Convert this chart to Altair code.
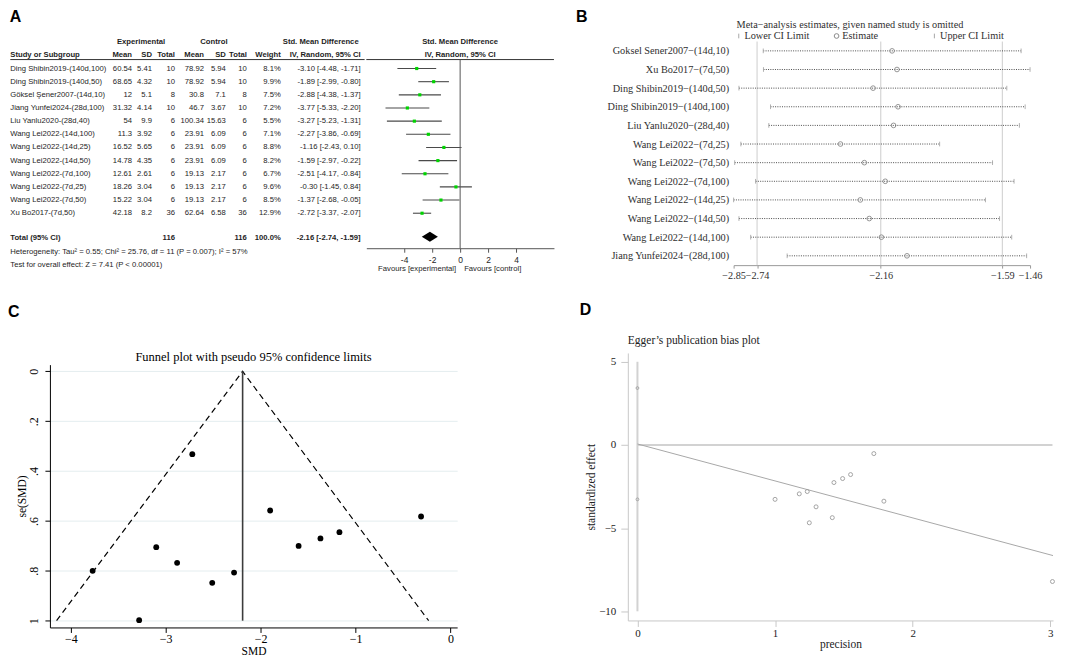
import altair as alt
import pandas as pd

SANS = "Liberation Sans"
SERIF = "Liberation Serif"

# ---------------- Panel A data (forest plot table) ----------------
studies_a = ["Ding Shibin2019-(140d,100)", "Ding Shibin2019-(140d,50)", "Göksel Şener2007-(14d,10)",
             "Jiang Yunfei2024-(28d,100)", "Liu Yanlu2020-(28d,40)", "Wang Lei2022-(14d,100)",
             "Wang Lei2022-(14d,25)", "Wang Lei2022-(14d,50)", "Wang Lei2022-(7d,100)",
             "Wang Lei2022-(7d,25)", "Wang Lei2022-(7d,50)", "Xu Bo2017-(7d,50)"]
exp_mean = [60.54, 68.65, 12, 31.32, 54, 11.3, 16.52, 14.78, 12.61, 18.26, 15.22, 42.18]
exp_sd = [5.41, 4.32, 5.1, 4.14, 9.9, 3.92, 5.65, 4.35, 2.61, 3.04, 3.04, 8.2]
exp_n = [10, 10, 8, 10, 6, 6, 6, 6, 6, 6, 6, 36]
ctl_mean = [78.92, 78.92, 30.8, 46.7, 100.34, 23.91, 23.91, 23.91, 19.13, 19.13, 19.13, 62.64]
ctl_sd = [5.94, 5.94, 7.1, 3.67, 15.63, 6.09, 6.09, 6.09, 2.17, 2.17, 2.17, 6.58]
ctl_n = [10, 10, 8, 10, 6, 6, 6, 6, 6, 6, 6, 36]
weight = [8.1, 9.9, 7.5, 7.2, 5.5, 7.1, 8.8, 8.2, 6.7, 9.6, 8.5, 12.9]
smd = [-3.10, -1.89, -2.88, -3.77, -3.27, -2.27, -1.16, -1.59, -2.51, -0.30, -1.37, -2.72]
smd_lo = [-4.48, -2.99, -4.38, -5.33, -5.23, -3.86, -2.43, -2.97, -4.17, -1.45, -2.68, -3.37]
smd_hi = [-1.71, -0.80, -1.37, -2.20, -1.31, -0.69, 0.10, -0.22, -0.84, 0.84, -0.05, -2.07]
total_n = [116, 116]
total_weight = "100.0%"
pooled = [-2.16, -2.74, -1.59]  # estimate, lower, upper
het_text = "Heterogeneity: Tau² = 0.55; Chi² = 25.76, df = 11 (P = 0.007); I² = 57%"
test_text = "Test for overall effect: Z = 7.41 (P < 0.00001)"
forest_ticks = [-4, -2, 0, 2, 4]

# ---------------- Panel B data (leave-one-out) ----------------
studies_b = ["Goksel Sener2007−(14d,10)", "Xu Bo2017−(7d,50)", "Ding Shibin2019−(140d,50)",
             "Ding Shibin2019−(140d,100)", "Liu Yanlu2020−(28d,40)", "Wang Lei2022−(7d,25)",
             "Wang Lei2022−(7d,50)", "Wang Lei2022−(7d,100)", "Wang Lei2022−(14d,25)",
             "Wang Lei2022−(14d,50)", "Wang Lei2022−(14d,100)", "Jiang Yunfei2024−(28d,100)"]
b_est = [-2.107, -2.084, -2.196, -2.079, -2.100, -2.349, -2.237, -2.139, -2.256, -2.214, -2.157, -2.037]
b_lo = [-2.711, -2.710, -2.825, -2.677, -2.685, -2.816, -2.845, -2.747, -2.850, -2.825, -2.770, -2.599]
b_hi = [-1.502, -1.460, -1.569, -1.483, -1.510, -1.884, -1.636, -1.535, -1.669, -1.603, -1.546, -1.476]
b_ref = [-2.74, -2.16, -1.59]
b_ticks = [-2.85, -2.74, -2.16, -1.59, -1.46]
b_kinds = ["Lower CI Limit", "Estimate", "Upper CI Limit"]

# ---------------- Panel C data (funnel) ----------------
c_smd = [-2.72, -1.90, -0.31, -1.17, -1.37, -1.60, -3.10, -2.88, -3.77, -2.28, -2.51, -3.28]
c_se = [0.332, 0.558, 0.582, 0.645, 0.670, 0.700, 0.705, 0.768, 0.800, 0.807, 0.848, 0.998]
funnel_x = [-4.15, -2.19, -0.23]
funnel_y = [1.0, 0.0, 1.0]
c_center = -2.19
c_xticks = [-4, -3, -2, -1, 0]
c_yticks = [0, 0.2, 0.4, 0.6, 0.8, 1]
c_title = "Funnel plot with pseudo 95% confidence limits"

# ---------------- Panel D data (Egger) ----------------
d_prec = [1.00, 1.176, 1.234, 1.249, 1.298, 1.416, 1.428, 1.491, 1.549, 1.718, 1.791, 3.016]
d_eff = [-3.27, -2.94, -2.80, -4.68, -3.72, -4.37, -2.26, -2.02, -1.78, -0.52, -3.38, -8.21]
egger_x = [0.0, 3.02]
egger_y = [0.06, -6.65]
intercept_ci = [3.42, -3.27]
d_xticks = [0, 1, 2, 3]
d_yticks = [-10, -5, 0, 5]

# =====================================================================
# Panel A  (plot origin of the table sits where panel C's plot starts)
ROW = 13.18
A_TOP, A_BOT, F_BOT = -2.05, 15.6, 13.66
ROW_TOTAL, ROW_HET, ROW_TEST = 12.85, 13.95, 14.92
HEAD_LINE = -0.68
ORG = 39.7                      # text columns start this far left of the table origin
TABLE_W, FOREST_W = 315.3, 188
TABLE_H = (A_BOT - A_TOP) * ROW
FOREST_H = (F_BOT - A_TOP) * ROW
COLS = {"study": (0, "left"), "em": (122, "right"), "es": (142, "right"), "en": (165, "right"),
        "cm": (194, "right"), "cs": (216, "right"), "cn": (237, "right"), "w": (271, "right"),
        "ci": (351, "right"), "hexp": (131, "center"), "hctl": (204, "center"), "hci": (311, "center")}
TXT = "#1e1e1e"
FS_A = 7.7

cells = [(-2, "hexp", "Experimental", True), (-2, "hctl", "Control", True),
         (-2, "hci", "Std. Mean Difference", True)]
for k, t in [("study", "Study or Subgroup"), ("em", "Mean"), ("es", "SD"), ("en", "Total"),
             ("cm", "Mean"), ("cs", "SD"), ("cn", "Total"), ("w", "Weight"), ("ci", "IV, Random, 95% CI")]:
    cells.append((-1, k, t, True))
for i, s in enumerate(studies_a):
    cells += [(i, "study", s, False), (i, "em", f"{exp_mean[i]:g}", False), (i, "es", f"{exp_sd[i]:g}", False),
              (i, "en", str(exp_n[i]), False), (i, "cm", f"{ctl_mean[i]:g}", False),
              (i, "cs", f"{ctl_sd[i]:g}", False), (i, "cn", str(ctl_n[i]), False),
              (i, "w", f"{weight[i]:.1f}%", False),
              (i, "ci", f"{smd[i]:.2f} [{smd_lo[i]:.2f}, {smd_hi[i]:.2f}]", False)]
cells += [(ROW_TOTAL, "study", "Total (95% CI)", True), (ROW_TOTAL, "en", str(total_n[0]), True),
          (ROW_TOTAL, "cn", str(total_n[1]), True), (ROW_TOTAL, "w", total_weight, True),
          (ROW_TOTAL, "ci", f"{pooled[0]:.2f} [{pooled[1]:.2f}, {pooled[2]:.2f}]", True),
          (ROW_HET, "study", het_text, False), (ROW_TEST, "study", test_text, False)]

ysc_t = alt.Scale(domain=[A_TOP, A_BOT], reverse=True, nice=False, zero=False)
t_layers = []
groups = {}
for r, c, t, b in cells:
    groups.setdefault((c, b), []).append({"row": r, "text": t})
for (col, bold), recs in groups.items():
    px, al = COLS[col]
    t_layers.append(
        alt.Chart(pd.DataFrame(recs)).mark_text(align=al, baseline="middle", font=SANS, fontSize=FS_A,
                                                fontWeight="bold" if bold else "normal", color=TXT)
        .encode(x=alt.value(px - ORG), y=alt.Y("row:Q", scale=ysc_t, axis=None), text="text:N"))
t_layers.append(
    alt.Chart(pd.DataFrame({"row": [HEAD_LINE]})).mark_rule(color="#333", strokeWidth=1)
    .encode(x=alt.value(-ORG), x2=alt.value(TABLE_W), y=alt.Y("row:Q", scale=ysc_t, axis=None)))
table = alt.layer(*t_layers).properties(width=TABLE_W, height=TABLE_H)

xsc_f = alt.Scale(domain=[-6.7, 6.7], nice=False, zero=False)
ysc_f = alt.Scale(domain=[A_TOP, F_BOT], reverse=True, nice=False, zero=False)
fdf = pd.DataFrame({"row": list(range(len(smd))), "smd": smd, "lo": smd_lo, "hi": smd_hi})
xaxis_f = alt.Axis(values=forest_ticks, labelExpr="'' + datum.value", title=None, grid=False,
                   domainColor="#555", tickColor="#555", tickSize=4, labelFont=SANS,
                   labelFontSize=8.5, labelColor=TXT, labelPadding=3)
ci_lines = alt.Chart(fdf).mark_rule(color="#4a4a4a", strokeWidth=1.1).encode(
    x=alt.X("lo:Q", scale=xsc_f, axis=xaxis_f), x2="hi:Q",
    y=alt.Y("row:Q", scale=ysc_f, axis=None))
squares = alt.Chart(fdf).mark_square(color="#00d400", size=10, opacity=1).encode(
    x=alt.X("smd:Q", scale=xsc_f), y=alt.Y("row:Q", scale=ysc_f, axis=None))
zero_line = alt.Chart(pd.DataFrame({"x": [0.0], "row": [HEAD_LINE]})).mark_rule(color="#555", strokeWidth=1).encode(
    x=alt.X("x:Q", scale=xsc_f), y=alt.Y("row:Q", scale=ysc_f, axis=None), y2=alt.value(FOREST_H))
head_line = alt.Chart(pd.DataFrame({"row": [HEAD_LINE]})).mark_rule(color="#333", strokeWidth=1).encode(
    x=alt.value(0), x2=alt.value(FOREST_W), y=alt.Y("row:Q", scale=ysc_f, axis=None))
DIA = 0.38
RD = ROW_TOTAL - 0.07
dia_df = pd.DataFrame({"x": [pooled[1], pooled[0], pooled[2]],
                       "y": [RD, RD - DIA, RD], "y2": [RD, RD + DIA, RD]})
diamond = alt.Chart(dia_df).mark_area(color="black", opacity=1).encode(
    x=alt.X("x:Q", scale=xsc_f), y=alt.Y("y:Q", scale=ysc_f, axis=None), y2="y2:Q")
fhead = alt.Chart(pd.DataFrame({"x": [0.0, 0.0], "row": [-2, -1],
                                "text": ["Std. Mean Difference", "IV, Random, 95% CI"]})) \
    .mark_text(font=SANS, fontSize=FS_A, fontWeight="bold", color=TXT, baseline="middle") \
    .encode(x=alt.X("x:Q", scale=xsc_f), y=alt.Y("row:Q", scale=ysc_f, axis=None), text="text:N")
fav_l = alt.Chart(pd.DataFrame({"x": [0.0], "text": ["Favours [experimental]"]})).mark_text(
    font=SANS, fontSize=FS_A, color=TXT, align="right", dx=-4, baseline="middle").encode(
    x=alt.X("x:Q", scale=xsc_f), y=alt.value(FOREST_H + 21), text="text:N")
fav_r = alt.Chart(pd.DataFrame({"x": [0.0], "text": ["Favours [control]"]})).mark_text(
    font=SANS, fontSize=FS_A, color=TXT, align="left", dx=4, baseline="middle").encode(
    x=alt.X("x:Q", scale=xsc_f), y=alt.value(FOREST_H + 21), text="text:N")
forest = alt.layer(ci_lines, head_line, zero_line, squares, diamond, fhead, fav_l, fav_r) \
    .properties(width=FOREST_W, height=FOREST_H)


def letter(t, dx, offset):
    return alt.TitleParams(t, anchor="start", font=SANS, fontSize=16, fontWeight="bold",
                           color="black", dx=dx, offset=offset)


panelA = alt.hconcat(table, forest, spacing=0).properties(title=letter("A", 0, 13))

# =====================================================================
# Panel B
BFS = 10.3
BTX = "#2f2f2f"
bx = alt.Scale(domain=[b_ticks[0], b_ticks[-1]], nice=False, zero=False)
by = alt.Scale(type="point", domain=studies_b, padding=0.5)
bdf = pd.DataFrame({"study": studies_b, "lo": b_lo, "est": b_est, "hi": b_hi})
blong = pd.DataFrame(
    [(s, "Lower CI Limit", l) for s, l in zip(studies_b, b_lo)] +
    [(s, "Estimate", e) for s, e in zip(studies_b, b_est)] +
    [(s, "Upper CI Limit", h) for s, h in zip(studies_b, b_hi)], columns=["study", "kind", "v"])
bxaxis = alt.Axis(values=b_ticks, format=".2f", title=None, grid=False, domainColor="#9a9a9a",
                  tickColor="#9a9a9a", tickSize=3, labelFont=SERIF, labelFontSize=BFS,
                  labelColor=BTX, labelPadding=2, labelOverlap=False, labelFlush=False)
byaxis = alt.Axis(title=None, domain=False, ticks=False, labelFont=SERIF, labelFontSize=BFS,
                  labelColor=BTX, labelPadding=5, labelLimit=400)
bleg = alt.Legend(orient="top", direction="horizontal", title=None, columns=3, gridAlign="all",
                  columnPadding=21, symbolSize=22, symbolStrokeWidth=1, labelFont=SERIF,
                  labelFontSize=BFS, labelColor=BTX, labelOffset=0.5, offset=0, padding=0)
vref = alt.Chart(pd.DataFrame({"v": b_ref})).mark_rule(color="#cdcdcd", strokeWidth=1).encode(
    x=alt.X("v:Q", scale=bx, axis=bxaxis))
dotted = alt.Chart(bdf).mark_rule(strokeDash=[1, 1.3], color="#3a3a3a", strokeWidth=0.9).encode(
    x=alt.X("lo:Q", scale=bx), x2="hi:Q", y=alt.Y("study:N", scale=by, axis=byaxis, sort=studies_b))
bpts = alt.Chart(blong).mark_point(filled=False, size=22, strokeWidth=0.9, opacity=1).encode(
    x=alt.X("v:Q", scale=bx), y=alt.Y("study:N", scale=by, sort=studies_b),
    shape=alt.Shape("kind:N", scale=alt.Scale(domain=b_kinds, range=["M0,-1L0,1", "circle", "M0,-1L0,1"]),
                    legend=bleg),
    color=alt.Color("kind:N", scale=alt.Scale(domain=b_kinds, range=["#a8a8a8", "#8a8a8a", "#a8a8a8"]),
                    legend=bleg))
b_inner = alt.layer(vref, dotted, bpts).properties(
    width=297, height=224,
    title=alt.TitleParams("Meta−analysis estimates, given named study is omitted", anchor="start",
                          frame="group", font=SERIF, fontSize=BFS, fontWeight="normal", color=BTX,
                          offset=0, dx=3))
panelB = alt.vconcat(b_inner).properties(title=letter("B", -31, -5)) \
    .resolve_scale(color="independent", shape="independent") \
    .resolve_legend(color="independent", shape="independent")

# =====================================================================
# Panel C  (plot box starts level with panel D's; the axis range is inset)
C_H, C_INSET = 275, 11.7
cx = alt.Scale(domain=[-4.22, 0.07], nice=False, zero=False)
cy = alt.Scale(domain=[-0.027, 1.027], range=[C_INSET, C_H], nice=False, zero=False)
cxaxis = alt.Axis(values=c_xticks, format="d", title="SMD", grid=False, domainColor="black",
                  tickColor="black", tickSize=5, labelFont=SERIF, labelFontSize=12, labelColor="black",
                  labelPadding=1, titleFont=SERIF, titleFontSize=11.5, titleFontWeight="normal",
                  titleColor="black", titlePadding=1, labelFlush=False)
cyaxis = alt.Axis(values=c_yticks, labelExpr="replace(format(datum.value, '~g'), '0.', '.')",
                  title="se(SMD)", grid=True, gridColor="#e4edef", gridWidth=1, domainColor="black",
                  tickColor="black", tickSize=5, labelFont=SERIF, labelFontSize=12, labelColor="black",
                  labelAngle=270, labelAlign="center", labelBaseline="bottom", labelPadding=4,
                  titleFont=SERIF, titleFontSize=11.5, titleFontWeight="normal", titleColor="black",
                  titlePadding=0, labelFlush=False)
fun_df = pd.DataFrame({"x": funnel_x, "y": funnel_y, "i": [0, 1, 2]})
funnel = alt.Chart(fun_df).mark_line(strokeDash=[6, 4], color="black", strokeWidth=1.2).encode(
    x=alt.X("x:Q", scale=cx, axis=cxaxis), y=alt.Y("y:Q", scale=cy, axis=cyaxis), order="i:Q")
crule = alt.Chart(pd.DataFrame({"x": [c_center], "y0": [0.0], "y1": [1.0]})).mark_rule(
    color="#3c3c3c", strokeWidth=1.6).encode(x=alt.X("x:Q", scale=cx), y=alt.Y("y0:Q", scale=cy), y2="y1:Q")
cpts = alt.Chart(pd.DataFrame({"x": c_smd, "y": c_se})).mark_circle(size=34, color="black", opacity=1).encode(
    x=alt.X("x:Q", scale=cx), y=alt.Y("y:Q", scale=cy))
ctitle = alt.Chart(pd.DataFrame({"t": [c_title]})).mark_text(
    font=SERIF, fontSize=12.5, color="black", baseline="middle", align="center").encode(
    x=alt.value(204), y=alt.value(4), text="t:N")
c_inner = alt.layer(funnel, crule, cpts, ctitle).properties(width=408, height=C_H)
panelC = alt.vconcat(c_inner).properties(title=letter("C", -9, 31))

# =====================================================================
# Panel D
DG = "#c8c8c8"
dxs = alt.Scale(domain=[-0.07, 3.02], nice=False, zero=False)
dys = alt.Scale(domain=[-10.55, 5.53], nice=False, zero=False)
dxaxis = alt.Axis(values=d_xticks, format="d", title="precision", grid=False, domainColor=DG,
                  tickColor=DG, tickSize=6, labelFont=SERIF, labelFontSize=11, labelColor="#222",
                  labelPadding=1, titleFont=SERIF, titleFontSize=11.5, titleFontWeight="normal",
                  titleColor="#222", titlePadding=0, labelFlush=False)
dyaxis = alt.Axis(values=d_yticks, format="d", title="standardized effect", grid=False, domainColor=DG,
                  tickColor=DG, tickSize=7, labelFont=SERIF, labelFontSize=11, labelColor="#222",
                  labelPadding=5, titleFont=SERIF, titleFontSize=11.5, titleFontWeight="normal",
                  titleColor="#222", titlePadding=2, labelFlush=False)
vline = alt.Chart(pd.DataFrame({"x": [0.0], "y0": [d_yticks[0]], "y1": [d_yticks[-1]]})).mark_rule(
    color="#d2d2d2", strokeWidth=2).encode(
    x=alt.X("x:Q", scale=dxs, axis=dxaxis), y=alt.Y("y0:Q", scale=dys, axis=dyaxis), y2="y1:Q")
hline = alt.Chart(pd.DataFrame({"y": [0.0], "x0": [0.0], "x1": [max(d_prec)]})).mark_rule(
    color="#d2d2d2", strokeWidth=2).encode(
    y=alt.Y("y:Q", scale=dys), x=alt.X("x0:Q", scale=dxs), x2="x1:Q")
reg = alt.Chart(pd.DataFrame({"x": egger_x, "y": egger_y})).mark_line(color="#a8a8a8", strokeWidth=1).encode(
    x=alt.X("x:Q", scale=dxs), y=alt.Y("y:Q", scale=dys))
icpts = alt.Chart(pd.DataFrame({"x": [0.0, 0.0], "y": intercept_ci})).mark_point(
    shape="circle", size=8, color="#999", filled=False, strokeWidth=0.8, opacity=1).encode(
    x=alt.X("x:Q", scale=dxs), y=alt.Y("y:Q", scale=dys))
dpts = alt.Chart(pd.DataFrame({"x": d_prec, "y": d_eff})).mark_point(
    shape="circle", size=16, color="#9a9a9a", filled=False, strokeWidth=0.9, opacity=1).encode(
    x=alt.X("x:Q", scale=dxs), y=alt.Y("y:Q", scale=dys))
d_inner = alt.layer(vline, hline, reg, icpts, dpts).properties(
    width=426, height=268,
    title=alt.TitleParams("Egger’s publication bias plot", anchor="start", frame="group", font=SERIF,
                          fontSize=11.5, fontWeight="normal", color="#222", offset=6.5))
panelD = alt.vconcat(d_inner).properties(title=letter("D", -6, 17))

# =====================================================================
top = alt.concat(panelA, panelB, columns=2, align="none", spacing=21) \
    .resolve_scale(color="independent", shape="independent") \
    .resolve_legend(color="independent", shape="independent")
bottom = alt.concat(panelC, panelD, columns=2, align="none", spacing=122)
chart = alt.concat(top, bottom, columns=1, align="none", spacing=21) \
    .resolve_scale(color="independent", shape="independent") \
    .resolve_legend(color="independent", shape="independent") \
    .properties(padding=0, background="white") \
    .configure_view(stroke=None)

chart.save("out.html", embed_options={"renderer": "svg", "actions": False})
